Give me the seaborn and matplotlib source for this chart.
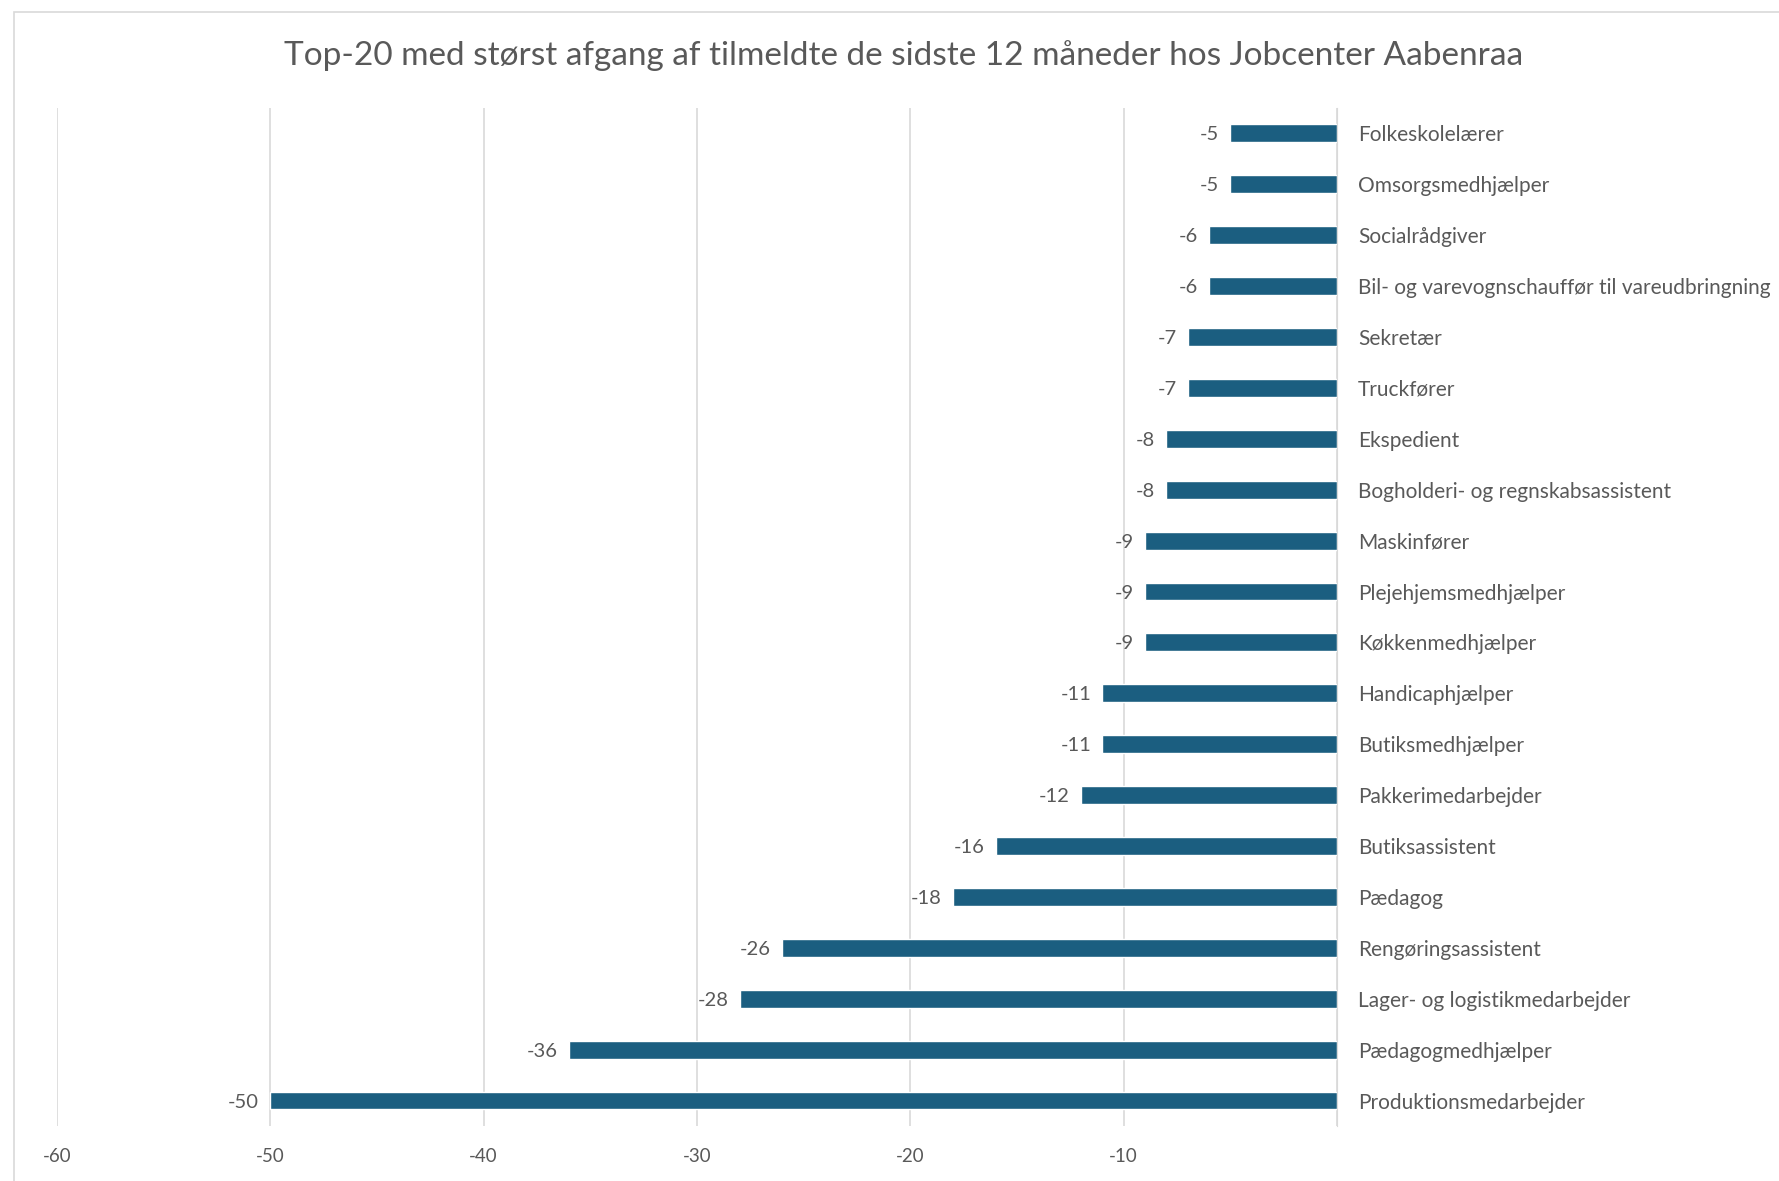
import matplotlib
matplotlib.use("Agg")
import matplotlib.pyplot as plt
import seaborn as sns
import pandas as pd

sns.set_style("white")
plt.rcParams['font.family'] = ['Lato', 'DejaVu Sans']

# data, top to bottom
jobs = ["Folkeskolelærer", "Omsorgsmedhjælper", "Socialrådgiver",
        "Bil- og varevognschauffør til vareudbringning", "Sekretær", "Truckfører",
        "Ekspedient", "Bogholderi- og regnskabsassistent", "Maskinfører",
        "Plejehjemsmedhjælper", "Køkkenmedhjælper", "Handicaphjælper",
        "Butiksmedhjælper", "Pakkerimedarbejder", "Butiksassistent", "Pædagog",
        "Rengøringsassistent", "Lager- og logistikmedarbejder",
        "Pædagogmedhjælper", "Produktionsmedarbejder"]
change = [-5, -5, -6, -6, -7, -7, -8, -8, -9, -9, -9, -11, -11, -12, -16, -18,
          -26, -28, -36, -50]
xticks = [-60, -50, -40, -30, -20, -10]

df = pd.DataFrame({"job": jobs, "change": change})
grey = "#595959"

fig = plt.figure(figsize=(17.79, 11.81), dpi=100)
ax = fig.add_axes([0.032, 0.0466, 0.7196, 0.862])
sns.barplot(data=df, x="change", y="job", color="#1b5e80", width=0.35,
            saturation=1, ax=ax)

ax.set_xlim(-60, 0)
ax.set_ylim(19.5, -0.5)
ax.set_xticks(xticks + [0])
ax.set_xticklabels([str(t) for t in xticks] + [""])
ax.grid(axis="x", color="#d9d9d9", linewidth=1.2)
ax.set_axisbelow(True)
for s in ["top", "bottom", "left"]:
    ax.spines[s].set_visible(False)
ax.spines["right"].set_color("#d9d9d9")
ax.yaxis.tick_right()
ax.tick_params(axis="y", length=0, pad=15, labelsize=15, labelcolor=grey)
ax.tick_params(axis="x", length=0, pad=16, labelsize=13.5, labelcolor=grey)
ax.set_xlabel("")
ax.set_ylabel("")

labels = ax.bar_label(ax.containers[0], fmt="%d", padding=8, fontsize=14.5, color=grey)
for t in labels:
    t.set_va("center_baseline")

fig.text(0.508, 0.953, "Top-20 med størst afgang af tilmeldte de sidste 12 måneder hos Jobcenter Aabenraa",
         ha="center", va="center", fontsize=24, color=grey)

# chart frame
fig.add_artist(plt.Rectangle((0.008, -0.1), 1.2, 1.09, transform=fig.transFigure,
                             fill=False, edgecolor="#d9d9d9", linewidth=1.2))

fig.savefig("out.png", dpi=100)
